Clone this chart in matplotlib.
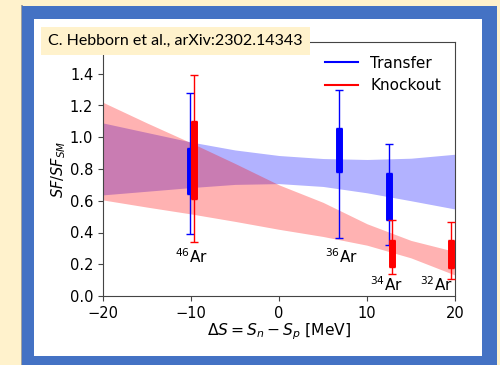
import numpy as np
import matplotlib
matplotlib.use("Agg")
import matplotlib.pyplot as plt
from matplotlib.patches import Rectangle

# bands vs Delta S
band_x = [-20, -15, -10, -5, 0, 5, 10, 15, 20]
transfer_hi = [1.09, 1.03, 0.97, 0.92, 0.885, 0.866, 0.860, 0.868, 0.893]
transfer_lo = [0.637, 0.66, 0.683, 0.703, 0.708, 0.69, 0.65, 0.60, 0.548]
knockout_hi = [1.22, 1.09, 0.965, 0.835, 0.70, 0.59, 0.455, 0.35, 0.28]
knockout_lo = [0.605, 0.56, 0.517, 0.47, 0.42, 0.375, 0.32, 0.24, 0.132]

# transfer data points
tr_x = [-10.1, 6.8, 12.45]
tr_lo = [0.39, 0.366, 0.32]
tr_hi = [1.28, 1.30, 0.958]
tr_lo_in = [0.64, 0.78, 0.48]
tr_hi_in = [0.93, 1.06, 0.775]

# knockout data points
ko_x = [-9.7, 12.8, 19.5]
ko_lo = [0.34, 0.139, 0.105]
ko_hi = [1.39, 0.479, 0.469]
ko_lo_in = [0.61, 0.181, 0.179]
ko_hi_in = [1.10, 0.353, 0.353]

nuclei = [r"$^{46}$Ar", r"$^{36}$Ar", r"$^{34}$Ar", r"$^{32}$Ar"]
nuc_x = [-10.0, 7.1, 12.2, 17.95]
nuc_y = [0.25, 0.245, 0.07, 0.07]

W, H = 500, 365
fig = plt.figure(figsize=(5, 3.65), dpi=100, facecolor="#fff2cc")

def px_rect(x0, y0, x1, y1, **kw):
    # rectangle from pixel coords (top-left origin)
    r = Rectangle((x0 / W, 1 - y1 / H), (x1 - x0) / W, (y1 - y0) / H,
                  transform=fig.transFigure, **kw)
    fig.add_artist(r)

px_rect(21, 5, 23, 365, facecolor="#a0a0a0", edgecolor="none", zorder=-3)
px_rect(22, 6, 497, 366, facecolor="#4472c4", edgecolor="none", zorder=-2)
px_rect(34, 19, 482, 356, facecolor="white", edgecolor="none", zorder=-1)

ax = fig.add_axes([103 / W, 1 - 296 / H, (455 - 103) / W, (296 - 42) / H])
ax.set_facecolor("white")


def errbars(x, lo, hi, color, lw, cap):
    lo = np.array(lo)
    hi = np.array(hi)
    mid = (lo + hi) / 2
    ax.errorbar(x, mid, yerr=[mid - lo, hi - mid], fmt="none", ecolor=color,
                elinewidth=lw, capsize=cap, capthick=1, zorder=3)


ax.fill_between(band_x, transfer_lo, transfer_hi, color="blue", alpha=0.3,
                linewidth=0)
ax.fill_between(band_x, knockout_lo, knockout_hi, color="red", alpha=0.3,
                linewidth=0)

errbars(tr_x, tr_lo, tr_hi, "blue", 1, 3)
errbars(tr_x, tr_lo_in, tr_hi_in, "blue", 5, 2.5)
errbars(ko_x, ko_lo, ko_hi, "red", 1, 3)
errbars(ko_x, ko_lo_in, ko_hi_in, "red", 5, 2.5)

ax.plot([], [], color="blue", label="Transfer")
ax.plot([], [], color="red", label="Knockout")
ax.legend(loc="upper right", frameon=False, fontsize=11, handlelength=2.2)

for name, x, y in zip(nuclei, nuc_x, nuc_y):
    ax.text(x, y, name, ha="center", va="center", fontsize=11)

ax.set_xlim(-20, 20)
ax.set_ylim(0, 1.6)
ax.set_xticks([-20, -10, 0, 10, 20])
# 1.6 sits under the reference box, so only go up to 1.4
ax.set_yticks(np.arange(0, 1.41, 0.2))
ax.tick_params(labelsize=10.5, color="#444444")
for s in ax.spines.values():
    s.set_color("#444444")
ax.set_xlabel(r"$\Delta S = S_n - S_p$ [MeV]", fontsize=11.2, labelpad=0.5)
ax.set_ylabel(r"$SF/SF_{SM}$", fontsize=10.5, labelpad=1)

# reference box over the top-left of the axes
px_rect(41, 27, 310, 55, facecolor="#fff2cc", edgecolor="none", zorder=5)
fig.text(48 / W, 1 - 41 / H, "C. Hebborn et al., arXiv:2302.14343",
         family="Lato", fontsize=11.5, va="center", ha="left", zorder=6)

fig.savefig("out.png", dpi=100, facecolor=fig.get_facecolor())
